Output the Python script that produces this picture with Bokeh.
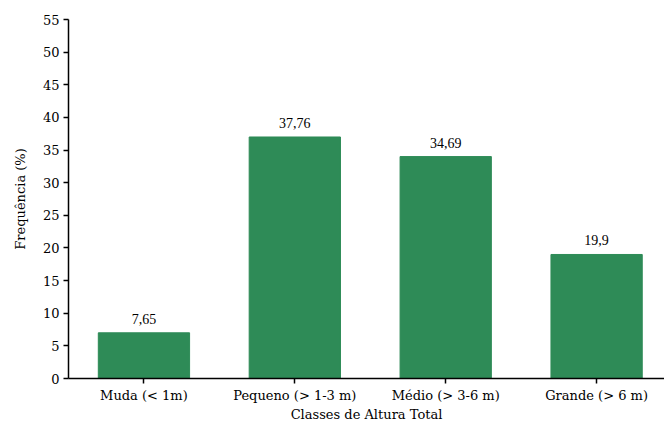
from bokeh.plotting import figure
from bokeh.models import ColumnDataSource, LabelSet, FixedTicker, Range1d
from bokeh.embed import file_html
from bokeh.resources import INLINE

categories = ["Muda (< 1m)", "Pequeno (> 1-3 m)", "Médio (> 3-6 m)", "Grande (> 6 m)"]
percent_labels = ["7,65", "37,76", "34,69", "19,9"]
bar_heights = [7, 37, 34, 19]
y_ticks = list(range(0, 60, 5))

xs = list(range(len(categories)))
src = ColumnDataSource(dict(x=xs, top=bar_heights, lab=percent_labels))

FONT = "DejaVu Serif"

p = figure(width=664, height=424, output_backend="svg", toolbar_location=None,
           x_range=Range1d(-0.5, 3.45), y_range=Range1d(0, 55),
           min_border_left=68, min_border_right=0, min_border_top=19, min_border_bottom=45)
p.vbar(x="x", top="top", width=0.605, source=src, fill_color="#2E8B57", line_color="#2E8B57")

labels = LabelSet(x="x", y="top", text="lab", source=src, text_align="center",
                  text_baseline="alphabetic", y_offset=9, text_font=FONT,
                  text_font_size="14px", text_color="black")
p.add_layout(labels)

p.xgrid.visible = False
p.ygrid.visible = False
p.outline_line_color = None
p.background_fill_color = "white"
p.border_fill_color = "white"

p.xaxis.ticker = FixedTicker(ticks=xs)
p.xaxis.major_label_overrides = {i: c for i, c in enumerate(categories)}
p.xaxis.axis_label = "Classes de Altura Total"
p.yaxis.ticker = FixedTicker(ticks=y_ticks)
p.yaxis.axis_label = "Frequência (%)"

for ax in (p.xaxis[0], p.yaxis[0]):
    ax.axis_line_color = "black"
    ax.axis_line_width = 1.5
    ax.major_tick_line_color = "black"
    ax.major_tick_line_width = 1.5
    ax.major_tick_out = 5
    ax.major_tick_in = 0
    ax.minor_tick_line_color = None
    ax.major_label_text_font = FONT
    ax.major_label_text_font_size = "13px"
    ax.major_label_text_color = "black"
    ax.axis_label_text_font = FONT
    ax.axis_label_text_font_size = "13px"
    ax.axis_label_text_font_style = "normal"
    ax.axis_label_text_color = "black"

p.xaxis.major_label_standoff = 4
p.xaxis.axis_label_standoff = 1
p.yaxis.major_label_standoff = 4
p.yaxis.axis_label_standoff = 12

open("out.html", "w").write(file_html(p, INLINE))
